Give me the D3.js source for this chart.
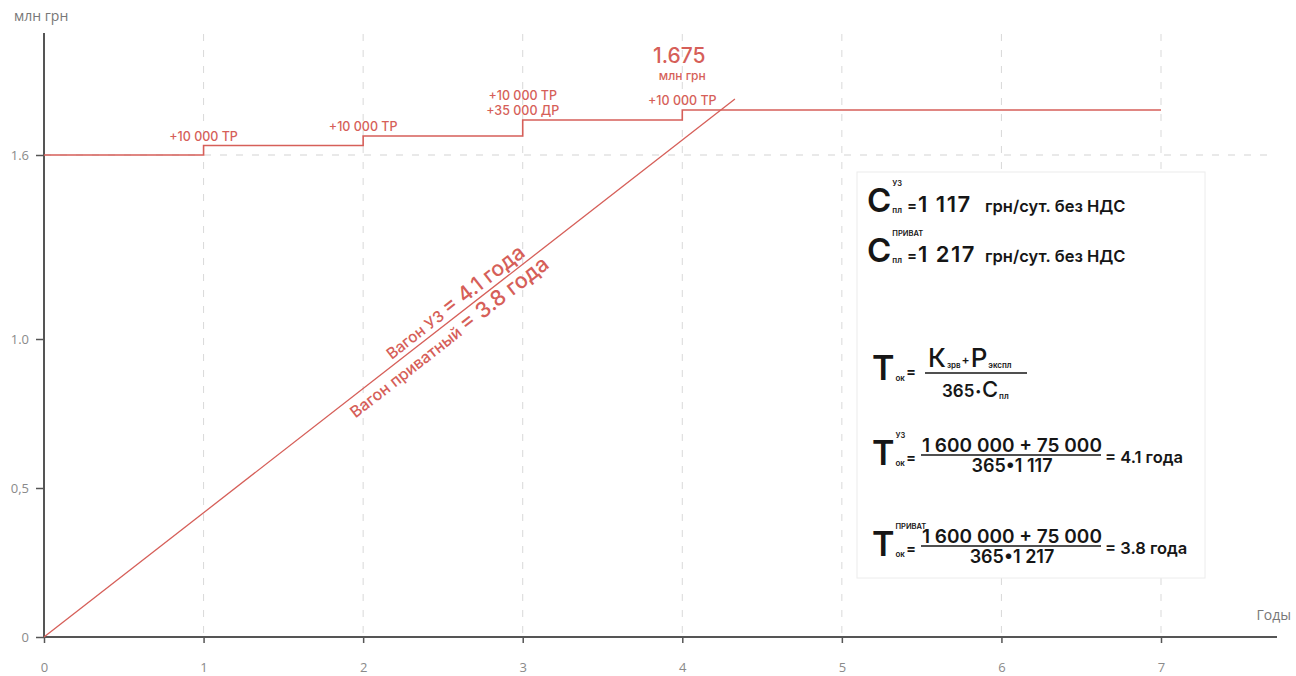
<!DOCTYPE html>
<html>
<head>
<meta charset="utf-8">
<script src="https://cdn.jsdelivr.net/npm/d3@7"></script>
<style>
    body { margin: 0; background: #fff; }
    svg { display: block; font-family: Inter, "Open Sans", sans-serif; }
</style>
</head>
<body>
<div id="chart"></div>
<script>
// data
var years = [0, 1, 2, 3, 4, 5, 6, 7];
var yTicks = [0, 0.5, 1.0, 1.6];
var yTickLabels = ["0", "0,5", "1.0", "1.6"];

// cost of the wagon incl. repairs (mln UAH), steps at start of each year
var stepYears = [0, 1, 2, 3, 4, 7];
var stepValues = [1.6, 1.61, 1.62, 1.665, 1.675, 1.675];
var stepNotes = [
    { year: 1, value: 1.61, lines: ["+10 000 ТР"] },
    { year: 2, value: 1.62, lines: ["+10 000 ТР"] },
    { year: 3, value: 1.665, lines: ["+10 000 ТР", "+35 000 ДР"] },
    { year: 4, value: 1.675, lines: ["+10 000 ТР"] }
];
var totalLabel = "1.675";

// accumulated income line
var incomeYears = [0, 4.33];
var incomeValues = [0, 1.686];

var red = "#d65f59",
    grey = "#8a8a8a",
    ink = "#161616";

var width = 1296,
    height = 676;

var svg = d3.select("#chart")
    .append("svg")
    .attr("width", width)
    .attr("height", height);

var x = d3.scaleLinear().domain([0, 7]).range([44, 1161]);
// the picture stretches the area above 1.6 so the steps are visible
var y = d3.scaleLinear()
    .domain([0, 0.5, 1.0, 1.6, 1.62, 1.665, 1.675])
    .range([637, 488, 339, 155, 136, 120, 110]);

// grid
svg.append("g")
    .selectAll("line")
    .data(years.slice(1))
    .enter()
    .append("line")
    .attr("x1", function (d) { return x(d) })
    .attr("x2", function (d) { return x(d) })
    .attr("y1", 34)
    .attr("y2", y(0))
    .attr("stroke", "#d9d9d9")
    .attr("stroke-dasharray", "7,9");

svg.append("line")
    .attr("x1", x(0))
    .attr("x2", 1272)
    .attr("y1", y(1.6))
    .attr("y2", y(1.6))
    .attr("stroke", "#d3d3d3")
    .attr("stroke-dasharray", "7,9");

// axes
var xAxis = svg.append("g")
    .attr("transform", "translate(0," + y(0) + ")")
    .call(d3.axisBottom(x).tickValues(years).tickSize(6).tickPadding(20).tickFormat(d3.format("d")));
xAxis.select(".domain").remove();
xAxis.selectAll("line").attr("stroke", "#555").attr("stroke-width", 1.5);
xAxis.selectAll("text").attr("fill", grey).attr("font-size", 13).attr("font-family", "'Open Sans', sans-serif");

svg.append("line")
    .attr("x1", x(0) - 1)
    .attr("x2", 1277)
    .attr("y1", y(0))
    .attr("y2", y(0))
    .attr("stroke", "#555")
    .attr("stroke-width", 2);

var yAxis = svg.append("g")
    .attr("transform", "translate(" + x(0) + ",0)")
    .call(d3.axisLeft(y).tickValues(yTicks).tickSize(8).tickPadding(7)
        .tickFormat(function (d, i) { return yTickLabels[i] }));
yAxis.select(".domain").remove();
yAxis.selectAll("line").attr("stroke", "#555").attr("stroke-width", 1.5);
yAxis.selectAll("text").attr("fill", grey).attr("font-size", 13).attr("font-family", "'Open Sans', sans-serif");

svg.append("line")
    .attr("x1", x(0))
    .attr("x2", x(0))
    .attr("y1", 33)
    .attr("y2", y(0) + 1)
    .attr("stroke", "#555")
    .attr("stroke-width", 2);

svg.append("text")
    .attr("x", 14)
    .attr("y", 21)
    .attr("fill", "#777")
    .attr("font-size", 14)
    .attr("font-family", "'Open Sans', sans-serif")
    .text("млн грн");

svg.append("text")
    .attr("x", 1291)
    .attr("y", 620)
    .attr("text-anchor", "end")
    .attr("fill", "#777")
    .attr("font-size", 14)
    .attr("font-family", "'Open Sans', sans-serif")
    .text("Годы");

// lines
var stepLine = d3.line()
    .x(function (d) { return x(d[0]) })
    .y(function (d) { return y(d[1]) })
    .curve(d3.curveStepAfter);

svg.append("path")
    .datum(stepYears.map(function (d, i) { return [d, stepValues[i]] }))
    .attr("d", stepLine)
    .attr("fill", "none")
    .attr("stroke", red)
    .attr("stroke-width", 1.6);

var incomeLine = d3.line()
    .x(function (d) { return x(d[0]) })
    .y(function (d) { return y(d[1]) });

svg.append("path")
    .datum(incomeYears.map(function (d, i) { return [d, incomeValues[i]] }))
    .attr("d", incomeLine)
    .attr("fill", "none")
    .attr("stroke", red)
    .attr("stroke-width", 1.3);

// step notes
stepNotes.forEach(function (n) {
    var t = svg.append("text")
        .attr("text-anchor", "middle")
        .attr("fill", red)
        .attr("font-size", 12.5)
        .attr("font-weight", 500);
    n.lines.forEach(function (s, i) {
        t.append("tspan")
            .attr("x", x(n.year))
            .attr("y", y(n.value) - 5 - (n.lines.length - 1 - i) * 15)
            .text(s);
    });
});

svg.append("text")
    .attr("x", x(4) - 3)
    .attr("y", 63)
    .attr("text-anchor", "middle")
    .attr("fill", red)
    .attr("font-size", 21)
    .attr("font-weight", 500)
    .text(totalLabel);
svg.append("text")
    .attr("x", x(4))
    .attr("y", 80)
    .attr("text-anchor", "middle")
    .attr("fill", red)
    .attr("font-size", 12)
    .attr("font-weight", 500)
    .text("млн грн");

// labels along the income line
var p0 = [x(incomeYears[0]), y(incomeValues[0])],
    p1 = [x(incomeYears[1]), y(incomeValues[1])];
var angle = Math.atan2(p1[1] - p0[1], p1[0] - p0[0]) * 180 / Math.PI;

function onLine(at) {
    var lx = x(at);
    return [lx, p0[1] + (p1[1] - p0[1]) * (lx - p0[0]) / (p1[0] - p0[0])];
}

function lineLabel(at, dy, small, big, s1, s2) {
    var p = onLine(at);
    var t = svg.append("text")
        .attr("transform", "translate(" + p[0] + "," + p[1] + ") rotate(" + angle + ")")
        .attr("text-anchor", "middle")
        .attr("y", dy)
        .attr("fill", red)
        .attr("font-weight", 500);
    t.append("tspan").attr("font-size", s1).text(small);
    t.append("tspan").attr("font-size", s2).text(big);
}

lineLabel(2.62, -5, "Вагон УЗ ", "= 4.1 года", 15.5, 21);
lineLabel(2.49, 19, "Вагон приватный ", "= 3.8 года", 16, 21.5);

// formula box
var box = svg.append("g");
box.append("rect")
    .attr("x", 857)
    .attr("y", 172)
    .attr("width", 348)
    .attr("height", 406)
    .attr("fill", "#fff")
    .attr("stroke", "#ececec");

function put(tx, ty, str, size, weight, anchor) {
    return box.append("text")
        .attr("x", tx)
        .attr("y", ty)
        .attr("fill", ink)
        .attr("font-size", size)
        .attr("font-weight", weight || 600)
        .attr("text-anchor", anchor || "start")
        .text(str);
}

// places pieces one after another, returns the end x
function chain(x0, base, parts) {
    var cx = x0;
    parts.forEach(function (p) {
        cx += p.dx || 0;
        var t = put(cx, base + (p.dy || 0), p.t, p.s, p.w);
        cx += t.node().getComputedTextLength();
    });
    return cx;
}

function rule(x1, x2, ry) {
    box.append("line")
        .attr("x1", x1).attr("x2", x2)
        .attr("y1", ry).attr("y2", ry)
        .attr("stroke", ink)
        .attr("stroke-width", 1.3);
}

// big letter with upper and lower index
function symbol(x0, base, letter, size, sup, sub) {
    var l = put(x0, base, letter, size, 600);
    var ix = x0 + l.node().getComputedTextLength() + 1;
    if (sup) put(ix, base - size * 0.8, sup, 7.5, 600);
    put(ix, base + 1, sub, 8, 600);
}

// C пл rows
[["УЗ", "1 117", 212], ["ПРИВАТ", "1 217", 262]].forEach(function (r) {
    symbol(867, r[2], "С", 33, r[0], "пл");
    put(907, r[2] - 1, "=", 15, 600);
    put(918, r[2], r[1], 22, 600).attr("letter-spacing", 1.5);
    put(985, r[2], "грн/сут. без НДС", 16.5, 600);
});

// general formula
symbol(872, 380, "Т", 34, null, "ок");
put(906, 377, "=", 15, 600);
var numEnd = chain(928, 367, [
    { t: "К", s: 26, w: 500 },
    { t: "зрв", s: 8, dy: 1, dx: 1 },
    { t: "+", s: 12, dy: -3, dx: 1 },
    { t: "Р", s: 26, w: 500, dx: 1 },
    { t: "экспл", s: 8, dy: 1, dx: 1 }
]);
rule(925, Math.max(1027, numEnd + 2), 373);
chain(942, 397, [
    { t: "365", s: 17 },
    { t: "•", s: 11, dy: -2, dx: 1 },
    { t: "С", s: 22, w: 500, dx: 1 },
    { t: "пл", s: 8, dy: 2, dx: 1 }
]);

// two numeric formulas
[["УЗ", "365•1 117", "= 4.1 года", 465], ["ПРИВАТ", "365•1 217", "= 3.8 года", 556]].forEach(function (r) {
    var b = r[3];
    symbol(872, b, "Т", 34, r[0], "ок");
    put(906, b - 2, "=", 15, 600);
    put(1012, b - 13, "1 600 000 + 75 000", 19, 600, "middle");
    rule(921, 1101, b - 10);
    put(1012, b + 7, r[1], 18, 600, "middle");
    put(1105, b - 2, r[2], 16.5, 600);
});
</script>
</body>
</html>
